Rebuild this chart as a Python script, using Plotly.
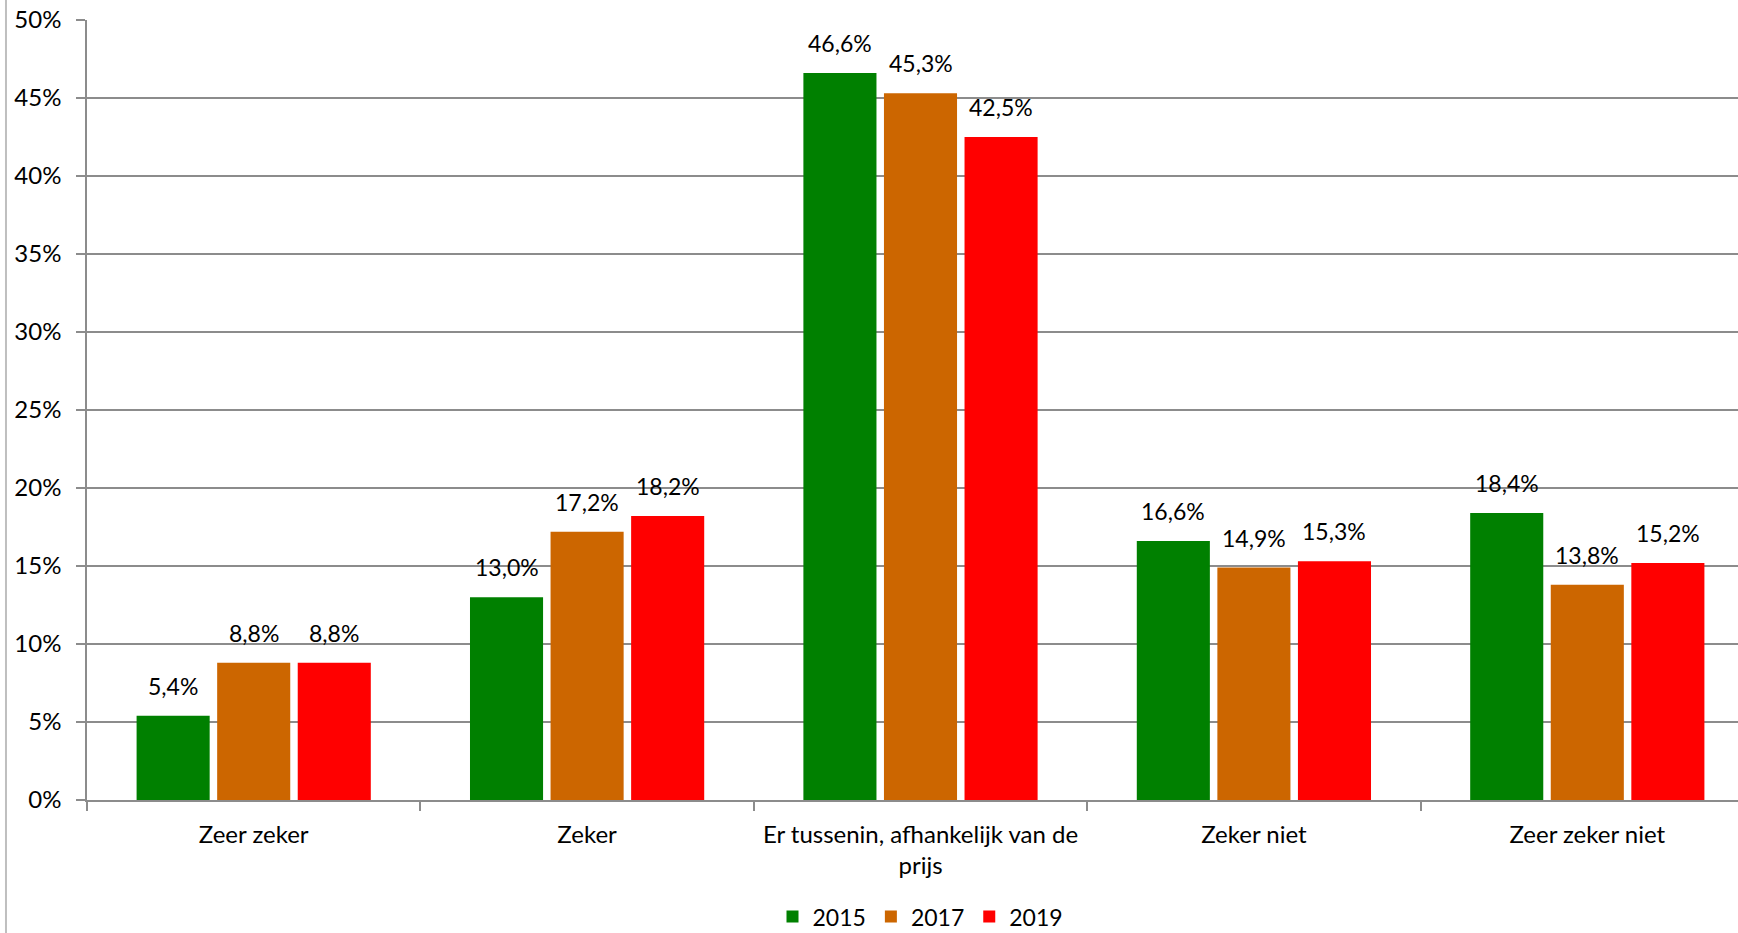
import plotly.graph_objects as go

categories = ["Zeer zeker", "Zeker", "Er tussenin, afhankelijk van de<br>prijs", "Zeker niet", "Zeer zeker niet"]
years = ["2015", "2017", "2019"]
v2015 = [0.054, 0.130, 0.466, 0.166, 0.184]
v2017 = [0.088, 0.172, 0.453, 0.149, 0.138]
v2019 = [0.088, 0.182, 0.425, 0.153, 0.152]
colors = ["#008000", "#CC6600", "#FF0000"]

FONT = "Lato, Carlito, Calibri, sans-serif"
BARGAP = 0.275
NSER = 3

fig = go.Figure()
series = [v2015, v2017, v2019]
for name, vals, col in zip(years, series, colors):
    fig.add_trace(go.Bar(
        x=categories, y=vals, name=name,
        marker=dict(color=col, line=dict(width=0)),
        cliponaxis=False,
    ))

# value labels placed above each bar (data coordinates, offset within the group)
slot = (1 - BARGAP) / NSER
annotations = []
for si, vals in enumerate(series):
    off = (si - (NSER - 1) / 2) * slot
    for ci, v in enumerate(vals):
        annotations.append(dict(
            x=ci + off, y=v, xref="x", yref="y",
            text=f"{v*100:.1f}%".replace(".", ","),
            showarrow=False, yanchor="bottom", yshift=14,
            font=dict(size=23, family=FONT, color="black"),
        ))

fig.update_layout(
    width=1754, height=933,
    margin=dict(l=87, r=0, t=20, b=133, autoexpand=False),
    paper_bgcolor="white", plot_bgcolor="white",
    separators=",.",
    barmode="group", bargap=BARGAP, bargroupgap=0.093,
    font=dict(family=FONT, size=23, color="black"),
    showlegend=True,
    legend=dict(orientation="h", x=0.5, xanchor="center", y=-0.122, yanchor="top",
                font=dict(size=23, family=FONT), itemsizing="constant",
                traceorder="normal", itemwidth=30),
    yaxis=dict(range=[0, 0.5], dtick=0.05, tickformat=".0%",
               showgrid=True, gridcolor="#8c8c8c", gridwidth=1.5,
               showline=True, linecolor="#8c8c8c", linewidth=1.5,
               ticks="outside", ticklen=9, tickcolor="#8c8c8c", tickwidth=1.5,
               ticklabelstandoff=10,
               tickfont=dict(size=24, family=FONT), zeroline=False, automargin=False),
    xaxis=dict(showline=True, linecolor="#8c8c8c", linewidth=1.5,
               ticks="outside", ticklen=9, tickcolor="#8c8c8c", tickwidth=1.5,
               tickson="boundaries", showgrid=False, automargin=False,
               ticklabelstandoff=12,
               tickfont=dict(size=24, family=FONT)),
    annotations=annotations,
    shapes=[dict(type="line", xref="paper", yref="paper",
                 x0=-0.0486, x1=-0.0486, y0=-0.1705, y1=1.0256,
                 line=dict(color="#bfbfbf", width=2))],
)

fig.write_html("out.html", config={"displayModeBar": False},
               post_script="document.body.style.margin='0';document.body.style.overflow='hidden';")
